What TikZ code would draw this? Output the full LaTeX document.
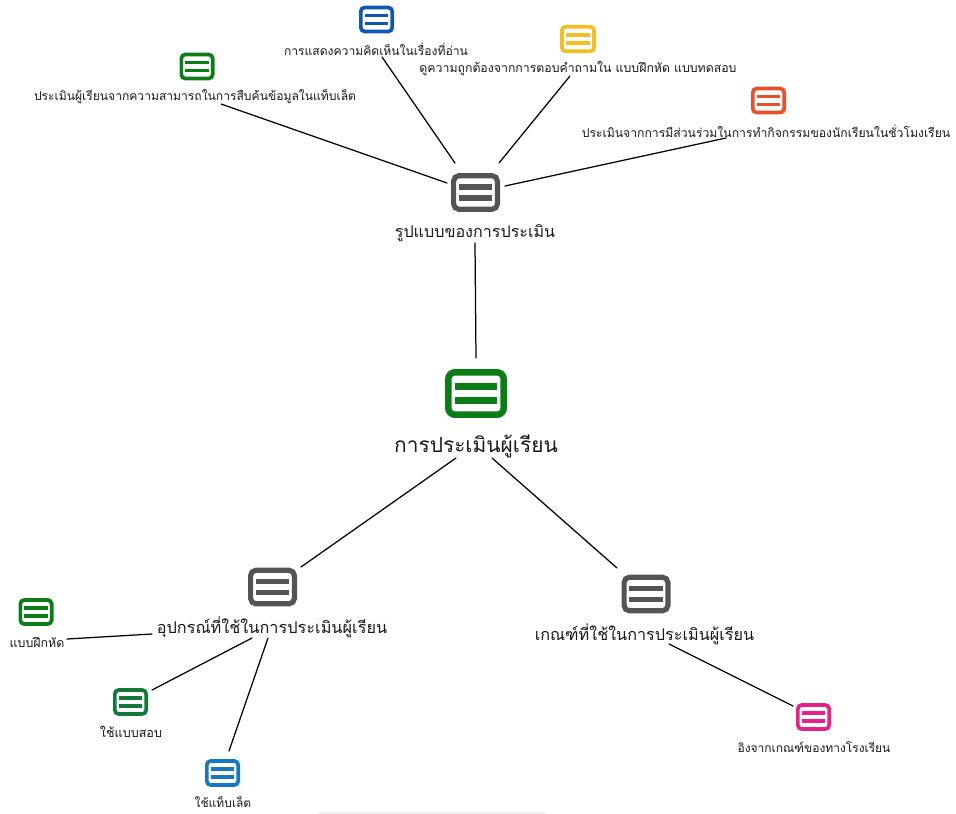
\documentclass[tikz,border=0pt]{standalone}
\usepackage{fontspec}
\newfontfamily\thaifont[Script=Thai]{Loma}
\usetikzlibrary{calc}
\definecolor{cgrey}{HTML}{545454}
\definecolor{cgreen}{HTML}{0B7C16}
\definecolor{cgreenb}{HTML}{13793A}
\definecolor{cblue}{HTML}{1256B4}
\definecolor{cbluec}{HTML}{1677C2}
\definecolor{cyellow}{HTML}{F3BE22}
\definecolor{corange}{HTML}{E8502A}
\definecolor{cpink}{HTML}{E6218C}
\tikzset{
  iconbox/.style 2 args={rectangle,rounded corners=#2*0.11pt,draw=#1,fill=white,inner sep=0pt,outer sep=0pt,
    line width=#2*0.105pt,minimum width=#2*0.895pt,minimum height=#2*0.685pt,
    path picture={
      \fill[#1,sharp corners] ($(path picture bounding box.center)+(-#2*0.34,-#2*0.17)$) rectangle ($(path picture bounding box.center)+(#2*0.34,-#2*0.06)$);
      \fill[#1,sharp corners] ($(path picture bounding box.center)+(-#2*0.34,#2*0.06)$) rectangle ($(path picture bounding box.center)+(#2*0.34,#2*0.17)$);
    }},
  lab/.style={inner sep=0pt,outer sep=0pt,font=\thaifont\fontsize{#1}{#1}\selectfont,text=black!90},
  link/.style={draw=black,line width=1.25pt,line cap=round}
}
\begin{document}
\begin{tikzpicture}[x=1pt,y=-1pt]
\useasboundingbox (0,0) rectangle (956,814);
\fill[black!5] (318,811.5) rectangle (546,814);
% icons
\node[iconbox={cgreen}{62}] (icMain) at (476,393.5) {};
\node[iconbox={cgrey}{49}] (icForm) at (475.5,192.5) {};
\node[iconbox={cgrey}{49}] (icTool) at (272.5,587) {};
\node[iconbox={cgrey}{49}] (icCrit) at (646,594) {};
\node[iconbox={cgreen}{35}] (icA) at (197,66.5) {};
\node[iconbox={cblue}{35}] (icB) at (376.5,19.5) {};
\node[iconbox={cyellow}{36}] (icC) at (578,39) {};
\node[iconbox={corange}{35}] (icD) at (768.5,100.5) {};
\node[iconbox={cgreen}{35}] (icE) at (36,612) {};
\node[iconbox={cgreenb}{35}] (icF) at (130.5,702) {};
\node[iconbox={cbluec}{35}] (icG) at (222.5,773) {};
\node[iconbox={cpink}{35}] (icH) at (813.5,717) {};
% labels
\node[lab=12.1] (tA) at (195,96.5) {ประเมินผู้เรียนจากความสามารถในการสืบค้นข้อมูลในแท็บเล็ต};
\node[lab=12.1] (tB) at (376,49.5) {การแสดงความคิดเห็นในเรื่องที่อ่าน};
\node[lab=12.3] (tC) at (578,68.5) {ดูความถูกต้องจากการตอบคำถามใน แบบฝึกหัด แบบทดสอบ};
\node[lab=12.2] (tD) at (766,131.5) {ประเมินจากการมีส่วนร่วมในการทำกิจกรรมของนักเรียนในชั่วโมงเรียน};
\node[lab=16.1] (tForm) at (475,233) {รูปแบบของการประเมิน};
\node[lab=20.9] (tMain) at (476,446) {การประเมินผู้เรียน};
\node[lab=16.3] (tTool) at (272,627) {อุปกรณ์ที่ใช้ในการประเมินผู้เรียน};
\node[lab=16.2] (tCrit) at (644.5,634) {เกณฑ์ที่ใช้ในการประเมินผู้เรียน};
\node[lab=12.4] (tE) at (37,642) {แบบฝึกหัด};
\node[lab=12.6] (tF) at (131,732) {ใช้แบบสอบ};
\node[lab=12] (tG) at (223,802) {ใช้แท็บเล็ต};
\node[lab=12] (tH) at (814,747) {อิงจากเกณฑ์ของทางโรงเรียน};
% connectors
\draw[link] ([shift={(26,7.5)}]tA.center) -- ([shift={(-28.5,-9.5)}]icForm.center);
\draw[link] ([shift={(6,7.5)}]tB.center) -- ([shift={(-20.5,-29.5)}]icForm.center);
\draw[link] ([shift={(-8,7.5)}]tC.center) -- ([shift={(23.5,-29.5)}]icForm.center);
\draw[link] ([shift={(-40,6.5)}]tD.center) -- ([shift={(29.5,-6.5)}]icForm.center);
\draw[link] ([shift={(0,10)}]tForm.center) -- ([shift={(0,-35.5)}]icMain.center);
\draw[link] ([shift={(-20,12)}]tMain.center) -- ([shift={(28.5,-20)}]icTool.center);
\draw[link] ([shift={(16,12)}]tMain.center) -- ([shift={(-29,-26)}]icCrit.center);
\draw[link] ([shift={(-120,7)}]tTool.center) -- ([shift={(30,-3)}]tE.center);
\draw[link] ([shift={(-20,11)}]tTool.center) -- ([shift={(21.5,-12)}]icF.center);
\draw[link] ([shift={(-4,11)}]tTool.center) -- ([shift={(6.5,-22)}]icG.center);
\draw[link] ([shift={(24.5,10)}]tCrit.center) -- ([shift={(-20.5,-11)}]icH.center);
\end{tikzpicture}
\end{document}
